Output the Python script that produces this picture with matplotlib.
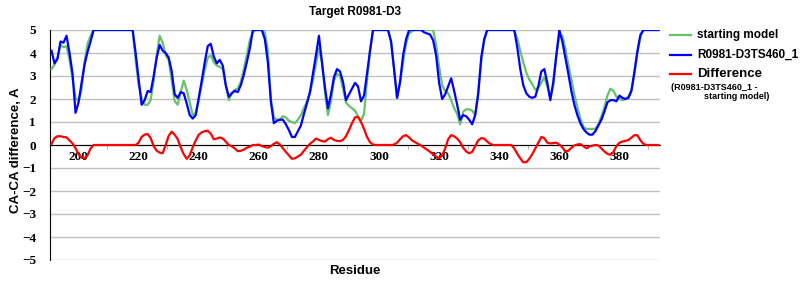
import numpy as np
import matplotlib
matplotlib.use("Agg")
import matplotlib.pyplot as plt
from matplotlib.lines import Line2D

# residue positions / CA-CA values
start_res = [191, 192, 193, 194, 195, 196, 197, 198, 199, 200, 201, 202, 203, 204, 205,
             218, 219, 220, 221, 222, 223, 224, 225, 226, 227, 228, 229, 230, 231, 232,
             233, 234, 235, 236, 237, 238, 239, 240, 241, 242, 243, 244, 245, 246, 247,
             248, 249, 250, 251, 252, 253, 254, 255, 256, 257, 258, 259, 261, 262, 263,
             264, 265, 266, 267, 268, 269, 270, 271, 272, 273, 274, 275, 276, 277, 278,
             279, 280, 281, 282, 283, 284, 285, 286, 287, 288, 289, 290, 291, 292, 293,
             294, 295, 296, 297, 298, 303, 304, 305, 306, 307, 308, 309, 310, 311, 312,
             318, 319, 320, 321, 322, 323, 324, 325, 326, 327, 328, 329, 330, 331, 332,
             333, 334, 335, 336, 345, 346, 347, 348, 349, 350, 351, 352, 353, 354, 355,
             356, 357, 358, 359, 360, 361, 362, 363, 364, 365, 366, 367, 368, 369, 370,
             371, 372, 373, 374, 375, 376, 377, 378, 379, 380, 381, 382, 383, 384, 385,
             386, 387, 388, 393]
start_val = [3.3, 3.5, 3.8, 4.35, 4.25, 4.3, 3.7, 2.9, 2.05, 1.9, 2.4, 3.6, 4.4, 4.75, 5.0,
             5.0, 3.7, 2.6, 2.05, 1.75, 1.75, 1.95, 2.8, 3.9, 4.75, 4.45, 3.9, 3.7, 2.8, 1.9,
             1.75, 2.3, 2.8, 2.4, 1.85, 1.3, 1.4, 1.95, 2.6, 3.25, 3.8, 3.9, 3.6, 3.45, 3.4,
             3.3, 2.6, 1.95, 2.25, 2.4, 2.45, 2.75, 3.3, 3.9, 4.55, 4.9, 5.0, 5.0, 4.9, 4.1,
             2.0, 1.2, 1.1, 1.1, 1.25, 1.2, 1.05, 1.0, 0.95, 1.1, 1.3, 1.6, 1.9, 2.25, 2.8,
             3.5, 4.2, 3.6, 2.3, 1.3, 1.9, 2.8, 3.1, 3.0, 2.45, 1.85, 1.7, 1.6, 1.5, 1.25,
             1.05, 1.35, 2.8, 4.1, 5.0, 5.0, 4.5, 3.3, 2.05, 2.7, 3.6, 4.4, 4.85, 4.95, 5.0,
             5.0, 4.35, 3.4, 2.6, 2.35, 2.25, 1.95, 1.6, 1.35, 0.9, 1.45, 1.55, 1.55, 1.5, 1.3,
             2.35, 3.6, 4.55, 5.0, 5.0, 4.65, 4.1, 3.6, 3.15, 2.85, 2.65, 2.4, 2.5, 2.7, 2.95,
             2.55, 2.05, 2.6, 3.9, 4.75, 4.75, 4.2, 3.5, 2.85, 2.2, 1.65, 1.15, 0.8, 0.7, 0.7,
             0.7, 0.7, 0.9, 1.25, 1.65, 2.15, 2.45, 2.35, 2.1, 2.0, 1.95, 2.0, 2.1, 2.4, 3.1,
             4.0, 4.7, 5.0, 5.0]

model_res = [191, 192, 193, 194, 195, 196, 197, 198, 199, 200, 201, 202, 203, 204, 205,
             218, 219, 220, 221, 222, 223, 224, 225, 226, 227, 228, 229, 230, 231, 232,
             233, 234, 235, 236, 237, 238, 239, 240, 241, 242, 243, 244, 245, 246, 247,
             248, 249, 250, 251, 252, 253, 254, 255, 256, 257, 258, 261, 262, 263, 264,
             265, 266, 267, 268, 269, 270, 271, 272, 273, 274, 275, 276, 277, 278, 279,
             280, 281, 282, 283, 284, 285, 286, 287, 288, 289, 290, 291, 292, 293, 294,
             295, 296, 297, 298, 303, 304, 305, 306, 307, 308, 309, 310, 314, 315, 316,
             317, 318, 319, 320, 321, 322, 323, 324, 325, 326, 327, 328, 329, 330, 331,
             332, 333, 334, 335, 336, 345, 346, 347, 348, 349, 350, 351, 352, 353, 354,
             355, 356, 357, 358, 359, 360, 361, 362, 363, 364, 365, 366, 367, 368, 369,
             370, 371, 372, 373, 374, 375, 376, 377, 378, 379, 380, 381, 382, 383, 384,
             385, 386, 387, 388, 393]
model_val = [4.1, 3.55, 3.75, 4.5, 4.45, 4.75, 4.0, 3.1, 1.4, 1.85, 2.7, 3.5, 4.05, 4.5, 5.0,
             5.0, 4.0, 2.85, 1.75, 1.95, 2.35, 2.3, 3.0, 3.8, 4.35, 4.1, 4.0, 3.8, 3.2, 2.2,
             2.05, 2.3, 2.25, 1.8, 1.3, 1.15, 1.3, 2.05, 2.8, 3.6, 4.3, 4.4, 3.85, 3.55, 3.7,
             3.45, 2.6, 2.1, 2.25, 2.35, 2.3, 2.6, 3.05, 3.6, 4.2, 5.0, 5.0, 4.6, 3.6, 1.9,
             0.95, 1.05, 1.1, 1.1, 0.9, 0.65, 0.35, 0.35, 0.6, 0.85, 1.35, 1.8, 2.3, 3.1, 3.9,
             4.75, 3.6, 2.5, 1.6, 2.2, 2.95, 3.3, 3.2, 2.75, 1.95, 2.2, 2.45, 2.7, 2.55, 1.9,
             2.15, 3.1, 4.1, 5.0, 5.0, 4.5, 3.3, 2.05, 2.75, 3.9, 4.6, 5.0, 5.0, 4.9, 4.85,
             4.8, 4.55, 3.9, 2.7, 2.0, 2.2, 2.55, 2.9, 2.35, 1.75, 1.1, 1.3, 1.25, 1.1, 0.9,
             1.3, 2.2, 3.8, 4.6, 5.0, 5.0, 4.25, 3.3, 2.6, 2.25, 2.1, 2.05, 2.1, 2.55, 3.2,
             3.3, 2.7, 1.95, 2.75, 3.9, 5.0, 4.5, 3.8, 3.1, 2.35, 1.75, 1.3, 0.95, 0.7, 0.55,
             0.45, 0.45, 0.6, 0.85, 1.1, 1.45, 1.85, 1.95, 1.95, 1.9, 2.15, 2.05, 2.0, 2.05, 2.35,
             3.2, 4.1, 4.8, 5.0, 5.0]

diff_res = [191, 192, 193, 194, 195, 196, 197, 198, 199, 200, 201, 202, 203, 204, 205,
            219, 220, 221, 222, 223, 224, 225, 226, 227, 228, 229, 230, 231, 232, 233,
            234, 235, 236, 237, 238, 239, 240, 241, 242, 243, 244, 245, 246, 247, 248,
            249, 250, 251, 252, 253, 254, 255, 256, 257, 258, 259, 260, 261, 262, 263,
            264, 265, 266, 267, 268, 269, 270, 271, 272, 273, 274, 275, 276, 277, 278,
            279, 280, 281, 282, 283, 284, 285, 286, 287, 288, 289, 290, 291, 292, 293,
            294, 295, 296, 297, 298, 299, 304, 305, 306, 307, 308, 309, 310, 311, 312,
            313, 314, 315, 316, 317, 318, 319, 320, 321, 322, 323, 324, 325, 326, 327,
            328, 329, 330, 331, 332, 333, 334, 335, 336, 337, 338, 344, 345, 346, 347,
            348, 349, 350, 351, 352, 353, 354, 355, 356, 357, 358, 359, 360, 361, 362,
            363, 364, 365, 366, 367, 368, 369, 370, 371, 372, 373, 374, 375, 376, 377,
            378, 379, 380, 381, 382, 383, 384, 385, 386, 387, 388, 389, 393]
diff_val = [0.05, 0.3, 0.38, 0.38, 0.35, 0.33, 0.2, 0.07, -0.14, -0.4, -0.55, -0.58, -0.45, -0.15, 0.0,
            0.0, 0.1, 0.35, 0.45, 0.48, 0.3, -0.05, -0.25, -0.33, -0.36, 0.0, 0.4, 0.58, 0.45, 0.25,
            -0.1, -0.4, -0.6, -0.45, -0.1, 0.2, 0.45, 0.55, 0.6, 0.62, 0.5, 0.25, 0.28, 0.33, 0.28,
            0.15, 0.0, -0.05, -0.15, -0.27, -0.25, -0.2, -0.12, -0.07, 0.0, 0.0, 0.02, -0.05, -0.08, -0.12,
            -0.05, 0.05, 0.12, 0.02, -0.14, -0.3, -0.45, -0.6, -0.58, -0.5, -0.42, -0.25, -0.1, 0.05, 0.15,
            0.28, 0.22, 0.17, 0.15, 0.25, 0.32, 0.22, 0.18, 0.17, 0.22, 0.38, 0.65, 0.95, 1.2, 1.22,
            1.0, 0.7, 0.35, 0.12, 0.02, 0.0, 0.0, 0.02, 0.1, 0.25, 0.38, 0.43, 0.33, 0.2, 0.12,
            0.05, -0.02, -0.12, -0.2, -0.3, -0.4, -0.5, -0.58, -0.45, -0.15, 0.25, 0.43, 0.38, 0.28, 0.12,
            -0.12, -0.28, -0.36, -0.3, -0.05, 0.2, 0.3, 0.28, 0.15, 0.05, 0.0, 0.0, -0.15, -0.38, -0.58,
            -0.75, -0.75, -0.6, -0.4, -0.15, 0.1, 0.35, 0.3, 0.1, 0.07, 0.08, 0.1, 0.02, -0.1, -0.28,
            -0.25, -0.12, -0.02, 0.02, 0.04, -0.05, -0.14, -0.06, -0.03, 0.0, -0.02, -0.15, -0.28, -0.38, -0.43,
            -0.3, -0.05, 0.1, 0.15, 0.18, 0.22, 0.32, 0.43, 0.42, 0.2, 0.05, 0.0, 0.0]

x_ticks = list(range(200, 381, 20))
y_ticks = list(range(-5, 6))

GREEN = "#66c266"
BLUE = "#0000ff"
RED = "#ff0000"

# tick numbers are bold serif in the original
plt.rcParams["font.family"] = ["Liberation Serif", "DejaVu Serif"]
plt.rcParams["font.weight"] = "bold"
plt.rcParams["font.size"] = 9.5

fig = plt.figure(figsize=(8, 3), dpi=100)
ax = fig.add_axes([50 / 800, 40 / 300, 610 / 800, 230 / 300])

ax.plot(start_res, start_val, color=GREEN, lw=1.6, zorder=3)
ax.plot(model_res, model_val, color=BLUE, lw=1.6, zorder=4)
ax.plot(diff_res, diff_val, color=RED, lw=1.6, zorder=5)

ax.set_xlim(190.5, 393.5)
ax.set_ylim(-5, 5)

ax.set_yticks(y_ticks)
ax.yaxis.grid(True, color="#c0c0c0", lw=1)
ax.set_axisbelow(True)
ax.tick_params(axis="y", length=0, pad=10)

ax.set_xticks(x_ticks)
ax.set_xticks(np.arange(209.5, 393, 20), minor=True)
ax.tick_params(axis="x", which="major", length=0, pad=4)
ax.tick_params(axis="x", which="minor", length=3, color="#a0a0a0", direction="out")

for s in ["top", "right"]:
    ax.spines[s].set_visible(False)
ax.spines["left"].set_color("black")
ax.spines["bottom"].set_position(("data", 0))
ax.spines["bottom"].set_color("black")
ax.spines["bottom"].set_zorder(2)

sans = ["Liberation Sans", "DejaVu Sans"]
fig.text(355 / 800, 1 - 12 / 300, "Target R0981-D3", ha="center", va="center",
         fontsize=8.5, fontweight="bold", family=sans)
fig.text(16 / 800, 1 - 150 / 300, "CA-CA difference, A", ha="center", va="center",
         rotation=90, fontsize=9.5, fontweight="bold", family=sans)
fig.text(355 / 800, 1 - 271 / 300, "Residue", ha="center", va="center",
         fontsize=9.5, fontweight="bold", family=sans)

# legend drawn by hand, like the original
legend_items = [("starting model", GREEN, 35, 8.5),
                ("R0981-D3TS460_1", BLUE, 55, 8.5),
                ("Difference", RED, 74, 9.5)]
for label, col, ypix, fs in legend_items:
    yy = 1 - ypix / 300
    fig.add_artist(Line2D([670 / 800, 691 / 800], [yy, yy], color=col, lw=1.6,
                          transform=fig.transFigure))
    fig.text(697 / 800, yy, label, ha="left", va="center", fontsize=fs,
             fontweight="bold", family=sans)
fig.text(671 / 800, 1 - 87 / 300, "(R0981-D3TS460_1 -", ha="left", va="center",
         fontsize=6.5, fontweight="bold", family=sans)
fig.text(704 / 800, 1 - 97 / 300, "starting model)", ha="left", va="center",
         fontsize=6.5, fontweight="bold", family=sans)

fig.savefig("out.png", dpi=100)
